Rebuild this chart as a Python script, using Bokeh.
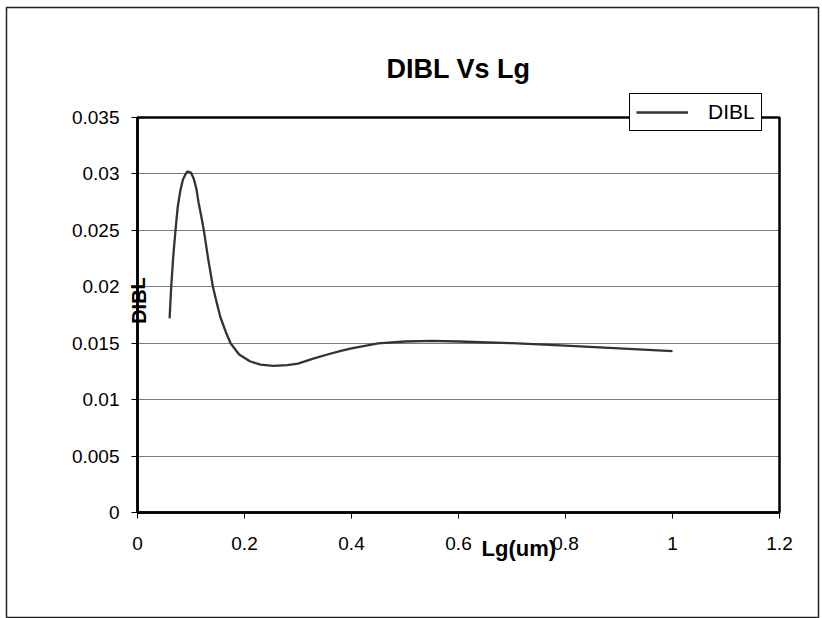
from bokeh.plotting import figure
from bokeh.models import FixedTicker, Label, Legend, LegendItem, BoxAnnotation
from bokeh.embed import file_html
from bokeh.resources import INLINE

# Gate length (um) and DIBL values along the curve
lg = [0.06, 0.063, 0.067, 0.071, 0.075, 0.08, 0.085, 0.09, 0.093, 0.096, 0.1,
      0.105, 0.11, 0.114, 0.119, 0.124, 0.132, 0.141, 0.148, 0.155, 0.165, 0.174,
      0.19, 0.21, 0.23, 0.254, 0.28, 0.3, 0.33, 0.355, 0.38, 0.4, 0.45, 0.5,
      0.55, 0.6, 0.7, 0.8, 0.9, 1.0]
dibl = [0.0172, 0.0200, 0.0228, 0.0250, 0.0270, 0.0285, 0.0295, 0.0300, 0.0302, 0.0302, 0.0301,
        0.0296, 0.0287, 0.0275, 0.0263, 0.0250, 0.0225, 0.0200, 0.0186, 0.0173, 0.0160, 0.0150,
        0.0140, 0.0134, 0.0131, 0.0130, 0.01305, 0.0132, 0.01365, 0.0140, 0.01432, 0.01455, 0.01498, 0.01515,
        0.0152, 0.01515, 0.0150, 0.01478, 0.01455, 0.0143]

x_ticks = [0, 0.2, 0.4, 0.6, 0.8, 1.0, 1.2]
x_tick_labels = ["0", "0.2", "0.4", "0.6", "0.8", "1", "1.2"]
y_ticks = [0, 0.005, 0.01, 0.015, 0.02, 0.025, 0.03, 0.035]
y_tick_labels = ["0", "0.005", "0.01", "0.015", "0.02", "0.025", "0.03", "0.035"]

X0, X1, Y0, Y1 = 0, 1.2, 0, 0.035          # plot-area extent in data units
W, H = 822, 618                            # canvas size
PL, PR, PT, PB = 137, 779, 117, 512        # plot-area edges on the canvas (px)

def dx(px):
    return X0 + (px - PL) * (X1 - X0) / (PR - PL)

def dy(py):
    return Y0 + (PB - py) * (Y1 - Y0) / (PB - PT)

FONT = "Liberation Sans"

# The frame spans the whole canvas; the axes are pinned at the plot-area edges.
p = figure(width=W, height=H, x_range=(dx(0), dx(W)), y_range=(dy(H), dy(0)),
           output_backend="svg", toolbar_location=None, title=None,
           min_border=0, min_border_left=0, min_border_right=0,
           min_border_top=0, min_border_bottom=0)
p.background_fill_color = "white"
p.border_fill_color = "white"
p.outline_line_color = None

for ax, ticks, labels, bnds in ((p.xaxis[0], x_ticks, x_tick_labels, (X0, X1)),
                                (p.yaxis[0], y_ticks, y_tick_labels, (Y0, Y1))):
    ax.fixed_location = 0
    ax.bounds = bnds
    ax.ticker = FixedTicker(ticks=ticks)
    ax.major_label_overrides = {t: s for t, s in zip(ticks, labels)}
    ax.axis_line_color = "black"
    ax.axis_line_width = 2.5
    ax.major_tick_line_color = "black"
    ax.major_tick_line_width = 1
    ax.major_tick_in = 0
    ax.major_tick_out = 6
    ax.minor_tick_line_color = None
    ax.major_label_text_font = FONT
    ax.major_label_text_font_size = "19px"
    ax.major_label_text_color = "black"
p.xaxis.major_label_standoff = 18
p.yaxis.major_label_standoff = 12

p.xgrid.grid_line_color = None
p.ygrid.grid_line_color = "#7a7a7a"
p.ygrid.grid_line_width = 1
p.ygrid.bounds = (Y0, Y1)
p.ygrid.cross_bounds = (X0, X1)

# plot-area border
p.add_layout(BoxAnnotation(left=X0, right=X1, bottom=Y0, top=Y1, fill_alpha=0,
                           line_color="black", line_alpha=1, line_width=2.5,
                           level="underlay"))
# chart-area border
p.add_layout(BoxAnnotation(left=dx(6), right=dx(818), top=dy(7), bottom=dy(617),
                           fill_alpha=0, line_color="#222222", line_alpha=1,
                           line_width=1.5))

r = p.line(lg, dibl, line_color="#333333", line_width=2.3, line_join="round")

# chart title and axis titles
p.add_layout(Label(x=dx(458), y=dy(68), text="DIBL Vs Lg", text_font=FONT,
                   text_font_size="27px", text_font_style="bold", text_color="black",
                   text_align="center", text_baseline="middle"))
p.add_layout(Label(x=dx(481), y=dy(548), text="Lg(um)", text_font=FONT,
                   text_font_size="22px", text_font_style="bold", text_color="black",
                   text_align="left", text_baseline="middle"))
p.add_layout(Label(x=dx(138), y=dy(300), text="DIBL", text_font=FONT,
                   text_font_size="20px", text_font_style="bold", angle=1.5708,
                   text_color="black", text_align="center", text_baseline="middle"))

legend = Legend(items=[LegendItem(label="DIBL", renderers=[r])],
                location=(629, H - 131), orientation="vertical",
                label_text_font=FONT, label_text_font_size="21px",
                label_text_color="black", border_line_color="black",
                border_line_width=1, border_line_alpha=1,
                background_fill_color="white", background_fill_alpha=1,
                glyph_width=52, glyph_height=20, padding=6, spacing=0, margin=0,
                label_standoff=20, label_height=20)
p.add_layout(legend, "center")

open("out.html", "w").write(file_html(p, INLINE))
